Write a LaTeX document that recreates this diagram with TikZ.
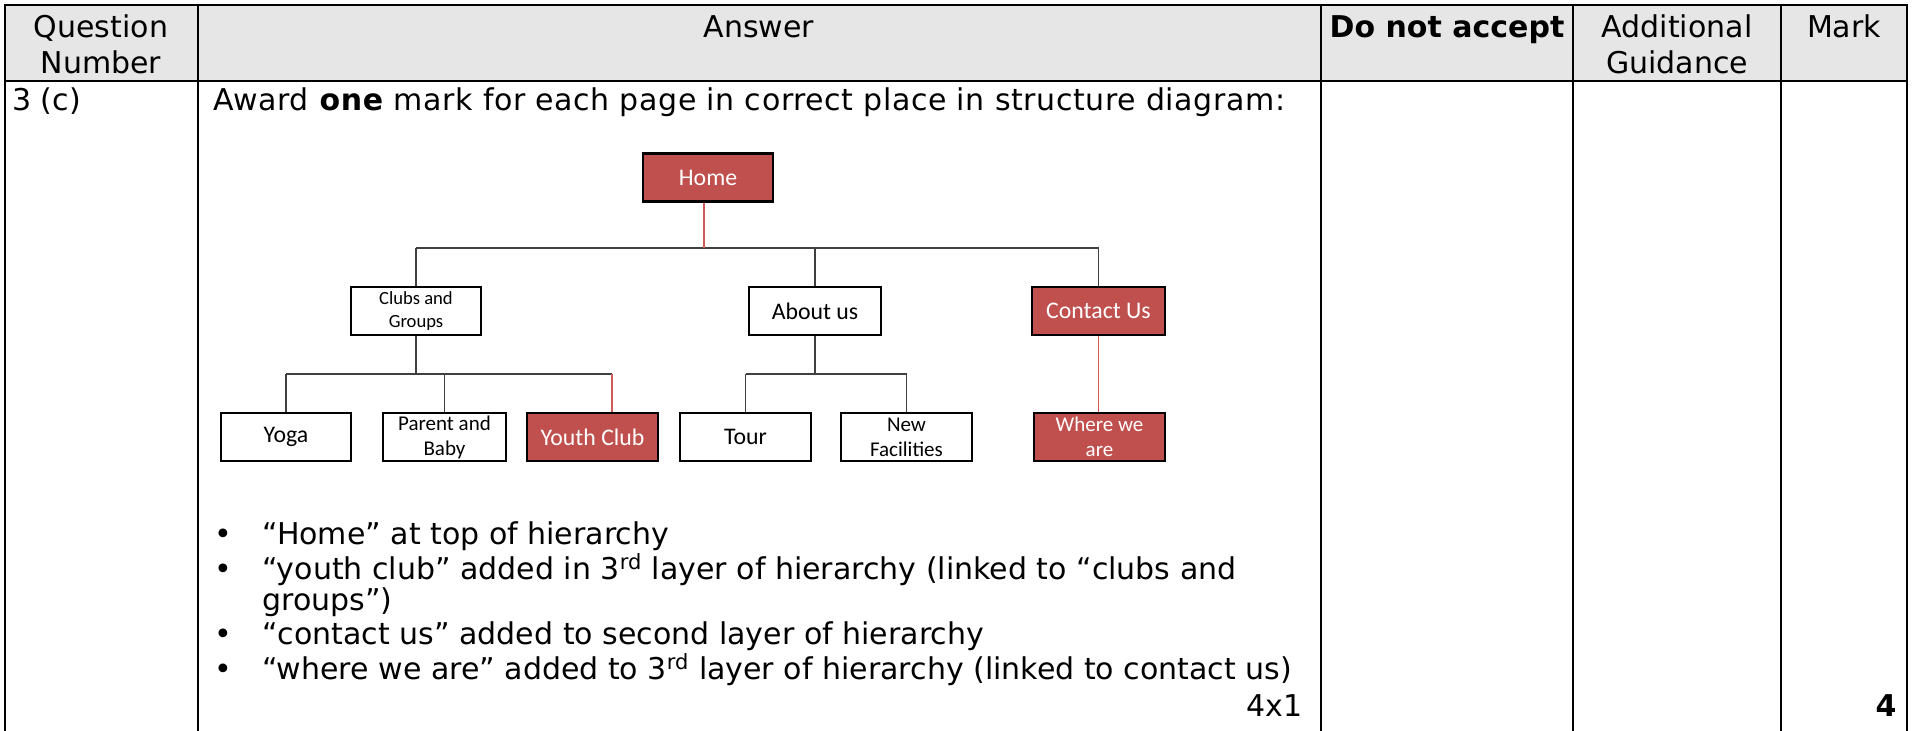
\documentclass[tikz,border=0pt]{standalone}
\usepackage{fontspec}
\setmainfont{DejaVu Sans}
\newfontfamily\boxfont{Carlito}
\usetikzlibrary{calc}
\definecolor{boxred}{HTML}{C0504D}
\definecolor{hdr}{HTML}{E6E6E6}
\definecolor{connc}{HTML}{404040}
\definecolor{redline}{HTML}{D05A57}
\begin{document}
\begin{tikzpicture}[x=0.5pt,y=-0.5pt,
  tline/.style={line width=1.2pt, line cap=rect},
  txt/.style={inner sep=0pt, anchor=base west, font=\fontsize{15}{18}\selectfont},
  hd/.style={inner sep=0pt, anchor=base, font=\fontsize{15}{18}\selectfont},
  page/.style={draw=black, line width=1.1pt, fill=white, minimum height=24pt,
    inner sep=0pt, align=center, font=\boxfont\fontsize{11.9}{13}\selectfont},
  twoline/.style={font=\boxfont\fontsize{10.5}{12.5}\selectfont},
  hot/.style={fill=boxred, text=white},
  conn/.style={draw=connc, line width=0.8pt},
  redconn/.style={draw=redline, line width=0.8pt}
]
\useasboundingbox (0,0) rectangle (1912,731);
% table
\fill[hdr] (5,5) rectangle (1907,81);
\draw[tline] (5,731) -- (5,5) -- (1907,5) -- (1907,731);
\draw[tline] (5,81) -- (1907,81);
\foreach \cx in {198,1321,1573,1781} \draw[tline] (\cx,5) -- (\cx,731);
% header
\node[hd] (h1a) at (101,38) {Question};
\node[hd] (h1b) at (101,74) {Number};
\node[hd] (h2) at (759,38) {Answer};
\node[hd, font=\bfseries\fontsize{15}{18}\selectfont] (h3) at (1447,38) {Do not accept};
\node[hd] (h4a) at (1677,38) {Additional};
\node[hd] (h4b) at (1677,74) {Guidance};
\node[hd] (h5) at (1844,38) {Mark};
% row
\node[txt] (qnum) at (12,111) {3 (c)};
\node[txt] (award) at (213,111) {\addfontfeature{LetterSpace=2}Award \textbf{one} mark for each page in correct place in structure diagram:};
% diagram
\node[page, hot, minimum width=65pt] (home) at (708,177.5) {Home};
\node[page, twoline, font=\boxfont\fontsize{9.3}{11.5}\selectfont, minimum width=65pt] (clubs) at (416,311) {Clubs and\\Groups};
\node[page, minimum width=66pt] (about) at (815,311) {About us};
\node[page, hot, minimum width=66.5pt] (contact) at (1098.5,311) {Contact Us};
\node[page, minimum width=65pt] (yoga) at (286,437) {Yoga};
\node[page, twoline, minimum width=61.5pt] (parent) at (444.5,437) {Parent and\\Baby};
\node[page, hot, minimum width=65.5pt] (youth) at (592.5,437) {Youth Club};
\node[page, minimum width=65.5pt] (tour) at (745.5,437) {Tour};
\node[page, twoline, minimum width=65.5pt] (newf) at (906.5,437) {New\\Facilities};
\node[page, twoline, hot, minimum width=65.5pt] (where) at (1099.5,437) {Where we\\are};
\coordinate (ytop) at (0,248);
\coordinate (ymid) at (0,374);
\coordinate (ycn) at ($(youth.north)+(19.5,0)$);
\coordinate (hms) at ($(home.south)+(-4,0)$);
\draw[conn] (clubs.north |- ytop) -- (contact.north |- ytop);
\draw[redconn] (hms) -- (hms |- ytop);
\draw[conn] (clubs.north |- ytop) -- (clubs.north);
\draw[conn] (about.north |- ytop) -- (about.north);
\draw[conn] (contact.north |- ytop) -- (contact.north);
\draw[conn] (clubs.south) -- (clubs.south |- ymid);
\draw[conn] (yoga.north |- ymid) -- (ycn |- ymid);
\draw[conn] (yoga.north |- ymid) -- (yoga.north);
\draw[conn] (parent.north |- ymid) -- (parent.north);
\draw[redconn] (ycn |- ymid) -- (ycn);
\draw[conn] (about.south) -- (about.south |- ymid);
\draw[conn] (tour.north |- ymid) -- (newf.north |- ymid);
\draw[conn] (tour.north |- ymid) -- (tour.north);
\draw[conn] (newf.north |- ymid) -- (newf.north);
\draw[redconn] (contact.south) -- (contact.south |- where.north);
% bullets
\foreach \by/\nm in {545/b1,580/b2,645/b3,680/b4}
  \node[txt, anchor=base] (\nm) at (223,\by) {•};
\node[txt] (t1) at (262,545) {“Home” at top of hierarchy};
\node[txt] (t2) at (262,580) {“youth club” added in 3\textsuperscript{rd} layer of hierarchy (linked to “clubs and};
\node[txt] (t2b) at (262,611) {groups”)};
\node[txt] (t3) at (262,645) {“contact us” added to second layer of hierarchy};
\node[txt] (t4) at (262,680) {“where we are” added to 3\textsuperscript{rd} layer of hierarchy (linked to contact us)};
\node[txt, anchor=base east] (mk1) at (1303,717) {4x1};
\node[txt, anchor=base east, font=\bfseries\fontsize{15}{18}\selectfont] (mk2) at (1897,717) {4};
\end{tikzpicture}
\end{document}
